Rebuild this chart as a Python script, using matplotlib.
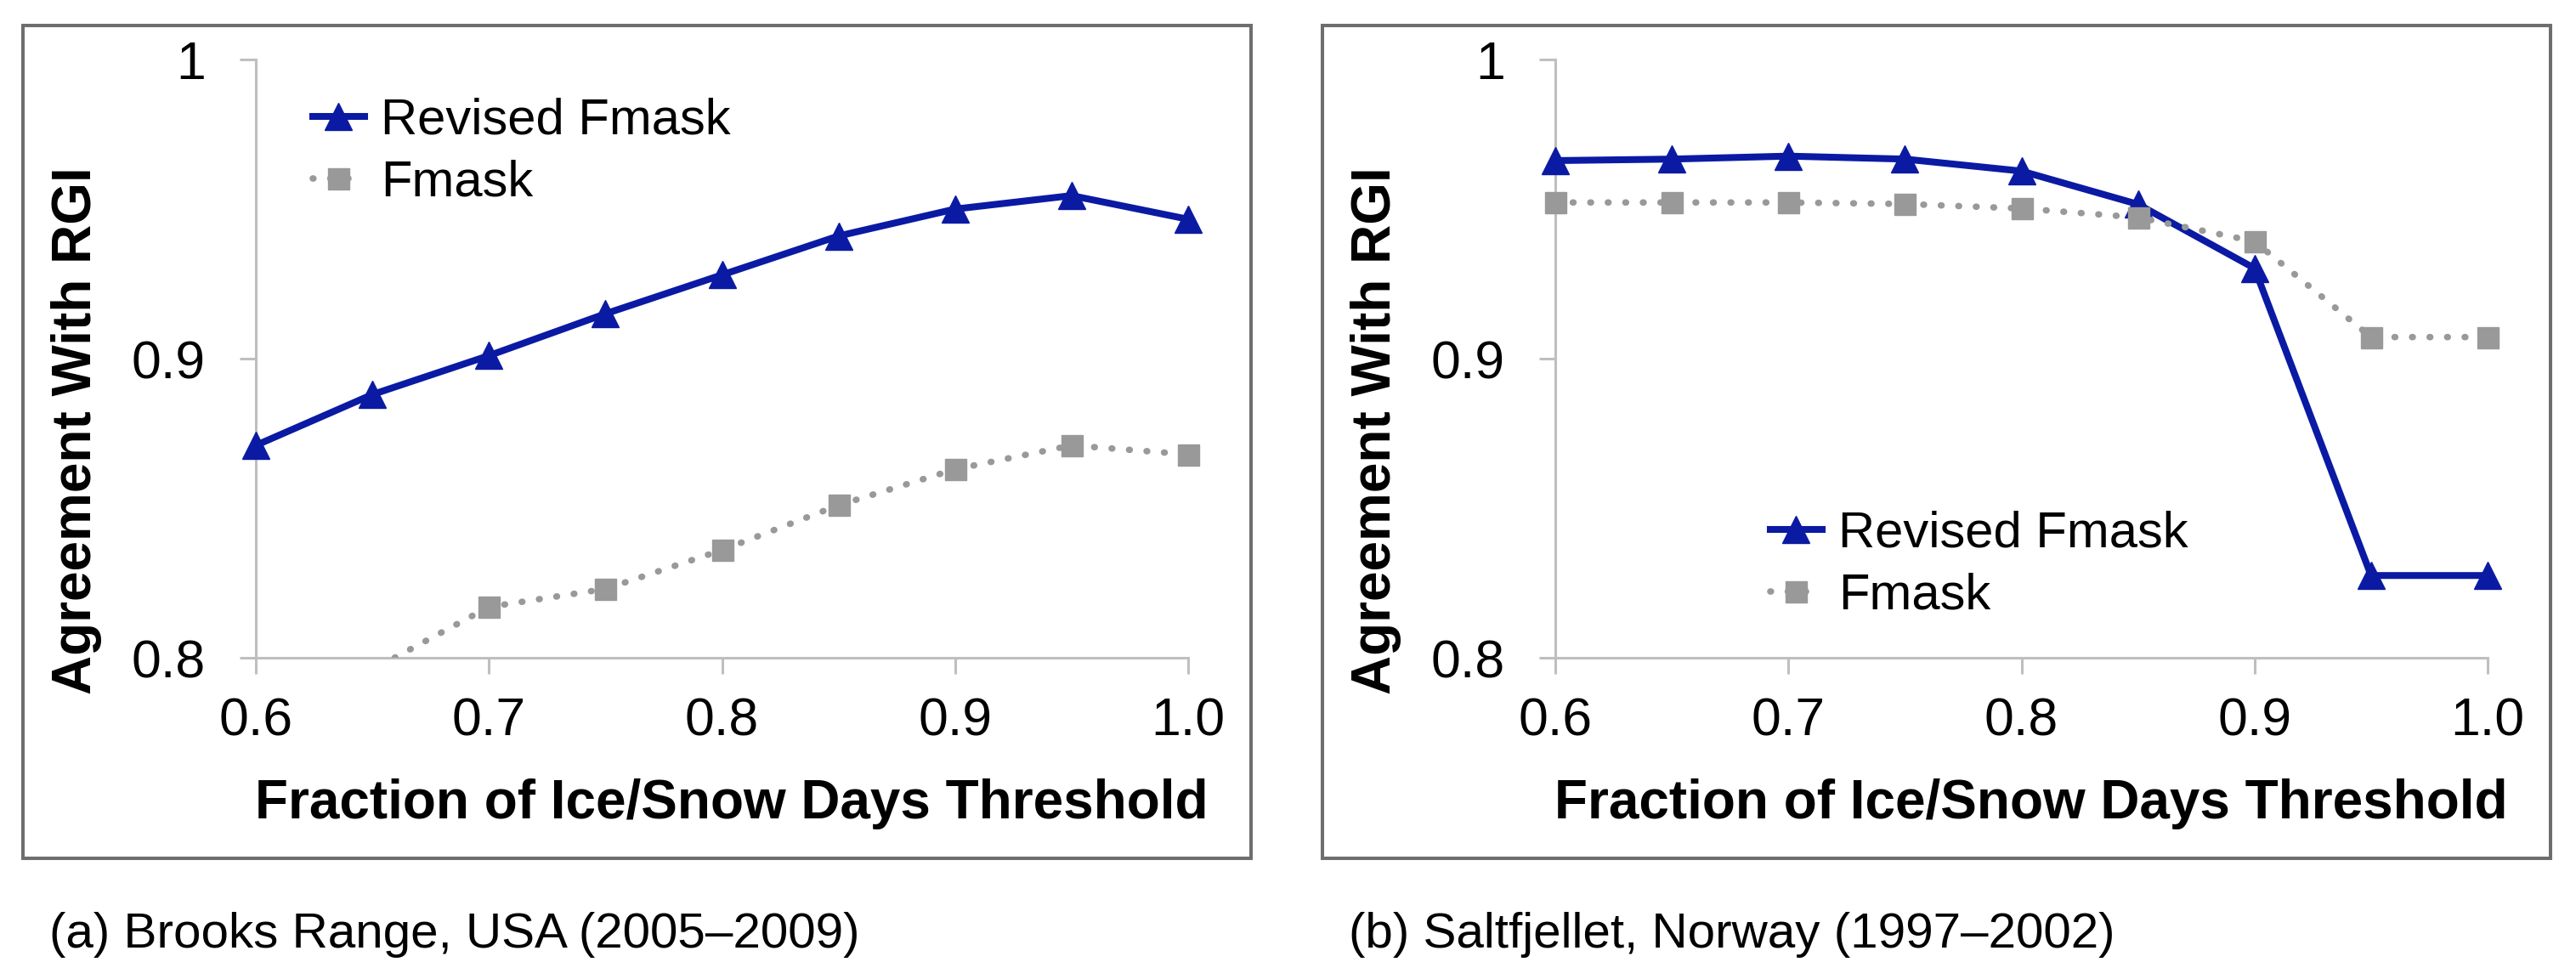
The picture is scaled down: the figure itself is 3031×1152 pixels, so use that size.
import numpy as np
import matplotlib
matplotlib.use('Agg')
import matplotlib.pyplot as plt
from matplotlib.patches import Rectangle

plt.rcParams['font.family'] = ['Liberation Sans', 'DejaVu Sans']

# ---- data ----
threshold = [0.60, 0.65, 0.70, 0.75, 0.80, 0.85, 0.90, 0.95, 1.00]

# (a) Brooks Range
brooks_revised = [0.871, 0.888, 0.901, 0.915, 0.928, 0.941, 0.950, 0.9545, 0.9466]
brooks_fmask = [0.775, 0.796, 0.817, 0.823, 0.836, 0.851, 0.863, 0.871, 0.868]

# (b) Saltfjellet
salt_revised = [0.9662, 0.9667, 0.9677, 0.9667, 0.9627, 0.9516, 0.9302, 0.8275, 0.8275]
salt_fmask = [0.9522, 0.9522, 0.9522, 0.9517, 0.9502, 0.9472, 0.9392, 0.9072, 0.9072]

xticks = [0.6, 0.7, 0.8, 0.9, 1.0]
xtick_labels = ['0.6', '0.7', '0.8', '0.9', '1.0']
yticks = [0.8, 0.9, 1.0]
ytick_labels = ['0.8', '0.9', '1']

captions = ['(a) Brooks Range, USA (2005\u20132009)',
            '(b) Saltfjellet, Norway (1997\u20132002)']

BLUE = '#0b1aa3'
GREY = '#999999'
AXGREY = '#bfbfbf'

W, H = 3031, 1152
fig = plt.figure(figsize=(W / 100, H / 100), dpi=100)


def px(x, y):
    # pixel (from top-left) -> figure fraction
    return x / W, 1 - y / H


def panel(dx, revised, fmask, legend_xy, caption):
    # outer frame
    fig.patches.append(Rectangle(px(27 + dx, 1010), (1472 - 27) / W, (1010 - 30) / H,
                                 transform=fig.transFigure, fill=False,
                                 edgecolor='#6e6e6e', linewidth=2.9))

    x0, y0 = px(301 + dx, 774)
    ax = fig.add_axes([x0, y0, 1097 / W, 704 / H])
    ax.set_xlim(0.6, 1.0)
    ax.set_ylim(0.8, 1.0)

    # clip only below the value axis, markers at the x ends stay whole
    clip = Rectangle((0.5, 0.8), 0.6, 0.25, transform=ax.transData)

    l1, = ax.plot(threshold, revised, color=BLUE, lw=5.8, marker='^', ms=23,
                  mec=BLUE, mfc=BLUE, label='Revised Fmask', zorder=3)
    l2, = ax.plot(threshold, fmask, color=GREY, lw=5.5, linestyle=(0, (0.1, 2.6)),
                  dash_capstyle='round', marker='s', ms=18, mec=GREY, mfc=GREY,
                  label='Fmask', zorder=3)
    for ln in (l1, l2):
        ln.set_clip_box(None)
        ln.set_clip_path(clip)

    for s in ('top', 'right'):
        ax.spines[s].set_visible(False)
    for s in ('left', 'bottom'):
        ax.spines[s].set_color(AXGREY)
        ax.spines[s].set_linewidth(2.2)

    ax.set_xticks(xticks)
    ax.set_xticklabels(xtick_labels)
    ax.set_yticks(yticks)
    ax.set_yticklabels(ytick_labels)
    ax.tick_params(axis='both', direction='out', length=13.5, width=2.2,
                   color=AXGREY, labelsize=45, labelcolor='black')
    ax.tick_params(axis='y', pad=29)
    ax.tick_params(axis='x', pad=19)

    ax.set_xlabel('Fraction of Ice/Snow Days Threshold', fontsize=46,
                  fontweight='bold')
    ax.xaxis.set_label_coords(0.51, -0.202)

    fx, fy = px(90 + dx, 507)
    fig.text(fx, fy, 'Agreement With RGI', rotation=90, fontsize=46,
             fontweight='bold', ha='center', va='center')

    lx, ly = px(legend_xy[0], legend_xy[1])
    ax.legend(loc='upper left', bbox_to_anchor=(lx, ly),
              bbox_transform=fig.transFigure, frameon=False, fontsize=43,
              handlelength=1.02, handletextpad=0.32, labelspacing=0.3,
              borderpad=0, borderaxespad=0, numpoints=1)

    cx, cy = px(58 + dx, 1115)
    fig.text(cx, cy, caption, fontsize=42, ha='left', va='baseline')
    return ax


panel(0, brooks_revised, brooks_fmask, (368, 115), captions[0])
panel(1529, salt_revised, salt_fmask, (2083, 601), captions[1])

fig.savefig('out.png', dpi=100, facecolor='white')
